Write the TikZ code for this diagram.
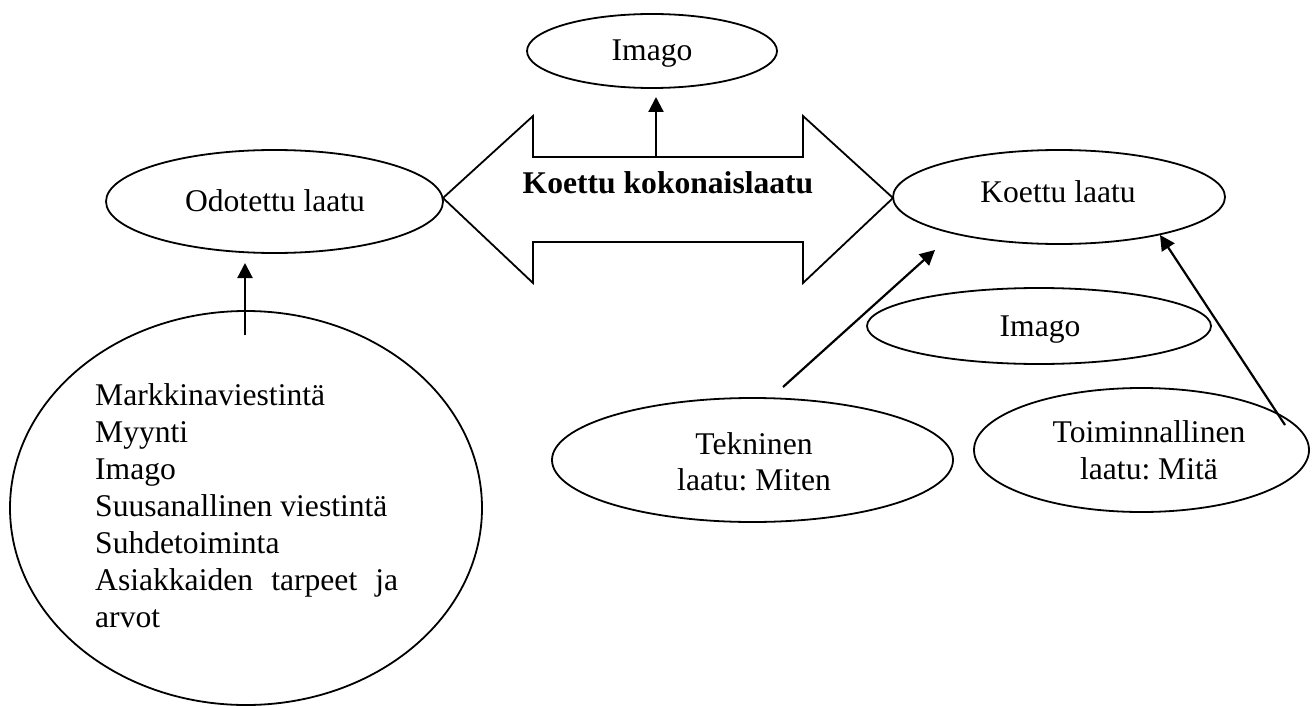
\documentclass[tikz,border=0pt]{standalone}
\usepackage{fontspec}
\setmainfont{Liberation Serif}
\usetikzlibrary{arrows.meta,shapes.geometric}
\frenchspacing
\begin{document}
\begin{tikzpicture}[x=1pt,y=-1pt,
  ell/.style={draw,line width=1.8pt,ellipse,inner sep=0pt},
  lbl/.style={inner sep=0pt,anchor=base,font=\fontsize{31.6}{37}\selectfont},
  arr/.style={line width=2.2pt,-{Triangle[length=15pt,width=15pt]}},
  bigarrow/.style={draw,line width=1.8pt,line join=miter}]
\useasboundingbox (0,0) rectangle (1316,706);
% ellipses
\node[ell,minimum width=250pt,minimum height=74pt] (imagotop) at (652,51) {};
\node[ell,minimum width=337pt,minimum height=103pt] (odotettu) at (274.5,201.5) {};
\node[ell,minimum width=332pt,minimum height=94pt] (koettu) at (1059,197) {};
\node[ell,minimum width=344pt,minimum height=76pt] (imagoright) at (1039,326) {};
\node[ell,minimum width=401pt,minimum height=124pt] (tekninen) at (752.5,460) {};
\node[ell,minimum width=335pt,minimum height=124pt] (toiminnallinen) at (1141.5,450) {};
\node[ell,minimum width=472pt,minimum height=394pt] (big) at (246,508) {};
% labels
\node[lbl] (timagotop) at (652,61) {Imago};
\node[lbl] (todotettu) at (275,211) {Odotettu laatu};
\node[lbl] (tkoettu) at (1058,202) {Koettu laatu};
\node[lbl] (timagoright) at (1040,336) {Imago};
\node[lbl] (ttek1) at (754,454) {Tekninen};
\node[lbl] (ttek2) at (754,490) {laatu: Miten};
\node[lbl] (ttoi1) at (1149,442) {Toiminnallinen};
\node[lbl] (ttoi2) at (1149,479) {laatu: Mitä};
\node[lbl,font=\fontsize{31.6}{37}\selectfont\bfseries] (tkokonais) at (668,193) {Koettu kokonaislaatu};
\node[lbl,anchor=base west,align=left] (tbig) at (95,627) {Markkinaviestintä\\Myynti\\Imago\\Suusanallinen viestintä\\Suhdetoiminta\\\hbox to 303pt{Asiakkaiden\hfill tarpeet\hfill ja}\\arvot};
% double arrow
\draw[bigarrow] (443,198) -- (533,116) -- (533,157) -- (803,157) -- (803,116) -- (893,198)
  -- (803,283) -- (803,242) -- (533,242) -- (533,283) -- cycle;
% connectors
\coordinate (c1s) at (656,157);
\coordinate (c1e) at (656,97);
\coordinate (c2s) at (245,335);
\coordinate (c2e) at (245,263);
\coordinate (c3s) at (783,387);
\coordinate (c3e) at (935,250);
\coordinate (c4s) at (1285,425);
\coordinate (c4e) at (1160,235);
\draw[arr] (c1s) -- (c1e);
\draw[arr] (c2s) -- (c2e);
\draw[arr] (c3s) -- (c3e);
\draw[arr] (c4s) -- (c4e);
\end{tikzpicture}
\end{document}
